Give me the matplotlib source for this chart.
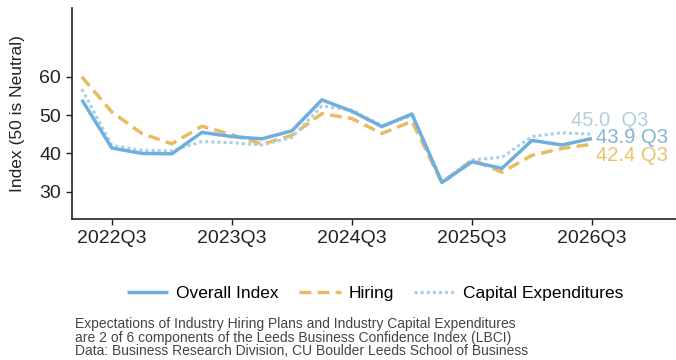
import matplotlib
matplotlib.use("Agg")
import matplotlib.pyplot as plt

plt.rcParams["font.family"] = ["Liberation Sans", "DejaVu Sans"]

# quarterly readings, 2022Q2 .. 2026Q3
quarters = ["2022Q2", "2022Q3", "2022Q4", "2023Q1", "2023Q2", "2023Q3",
            "2023Q4", "2024Q1", "2024Q2", "2024Q3", "2024Q4", "2025Q1",
            "2025Q2", "2025Q3", "2025Q4", "2026Q1", "2026Q2", "2026Q3"]
overall = [54.0, 41.4, 40.0, 39.9, 45.5, 44.4, 43.8, 45.9, 54.0,
           51.0, 47.0, 50.3, 32.4, 37.8, 36.1, 43.4, 42.2, 43.9]
hiring = [60.0, 50.8, 45.2, 42.5, 47.1, 44.9, 42.4, 44.7, 50.4,
          49.1, 45.2, 48.4, 32.3, 38.3, 35.1, 39.5, 41.3, 42.4]
capex = [56.8, 42.1, 40.8, 40.7, 43.1, 42.8, 42.2, 44.2, 52.4,
         51.3, 47.3, 49.8, 32.6, 38.3, 39.0, 44.4, 45.4, 45.0]
tick_labels = ["2022Q3", "2023Q3", "2024Q3", "2025Q3", "2026Q3"]

C_OVERALL = "#6fafe0"
C_HIRING = "#e9bb62"
C_CAPEX = "#a9cfe3"

fig = plt.figure(figsize=(6.76, 3.6), dpi=100)
ax = fig.add_axes([0.106, 0.392, 0.894, 0.586])

x = list(range(len(quarters)))
ax.plot(x, overall, color=C_OVERALL, lw=2.5, solid_capstyle="butt",
        label="Overall Index", zorder=3)
ax.plot(x, hiring, color=C_HIRING, lw=2.5, dashes=(3.4, 1.8),
        label="Hiring", zorder=2)
ax.plot(x, capex, color=C_CAPEX, lw=2.2, dashes=(1, 1),
        label="Capital Expenditures", zorder=2)

# end-of-series labels
last = len(quarters) - 1
ax.annotate(f"{capex[-1]:.1f}  Q3", (last, capex[-1]), xytext=(-15, 10),
            textcoords="offset points", color="#b3cfdc", fontsize=14.5,
            va="center", ha="left")
ax.annotate(f"{overall[-1]:.1f} Q3", (last, overall[-1]), xytext=(3, 1),
            textcoords="offset points", color="#86b3d0", fontsize=14.5,
            va="center", ha="left")
ax.annotate(f"{hiring[-1]:.1f} Q3", (last, hiring[-1]), xytext=(3, -8),
            textcoords="offset points", color="#e6c46e", fontsize=14.5,
            va="center", ha="left")

ax.set_xlim(-0.34, 19.8)
ax.set_ylim(22.9, 78)
ax.set_yticks([30, 40, 50, 60])
ax.set_xticks([quarters.index(t) for t in tick_labels])
ax.set_xticklabels(tick_labels)
ax.tick_params(axis="both", labelsize=14, colors="#222222", length=4, width=1)
ax.tick_params(axis="x", pad=4)
for side in ("top", "right"):
    ax.spines[side].set_visible(False)
for side in ("left", "bottom"):
    ax.spines[side].set_color("#222222")
    ax.spines[side].set_linewidth(1.2)
ax.set_ylabel("Index (50 is Neutral)", fontsize=12.5, color="#222222",
              labelpad=10)

fig.legend(loc="center", bbox_to_anchor=(0.555, 0.185), ncol=3,
           frameon=False, fontsize=12.5, handlelength=2.4,
           columnspacing=1.15, handletextpad=0.45)

fig.text(0.111, 0.119,
         "Expectations of Industry Hiring Plans and Industry Capital Expenditures\n"
         "are 2 of 6 components of the Leeds Business Confidence Index (LBCI)\n"
         "Data: Business Research Division, CU Boulder Leeds School of Business",
         fontsize=10, color="#444444", linespacing=0.95, va="top", ha="left")

fig.savefig("out.png", dpi=100)
